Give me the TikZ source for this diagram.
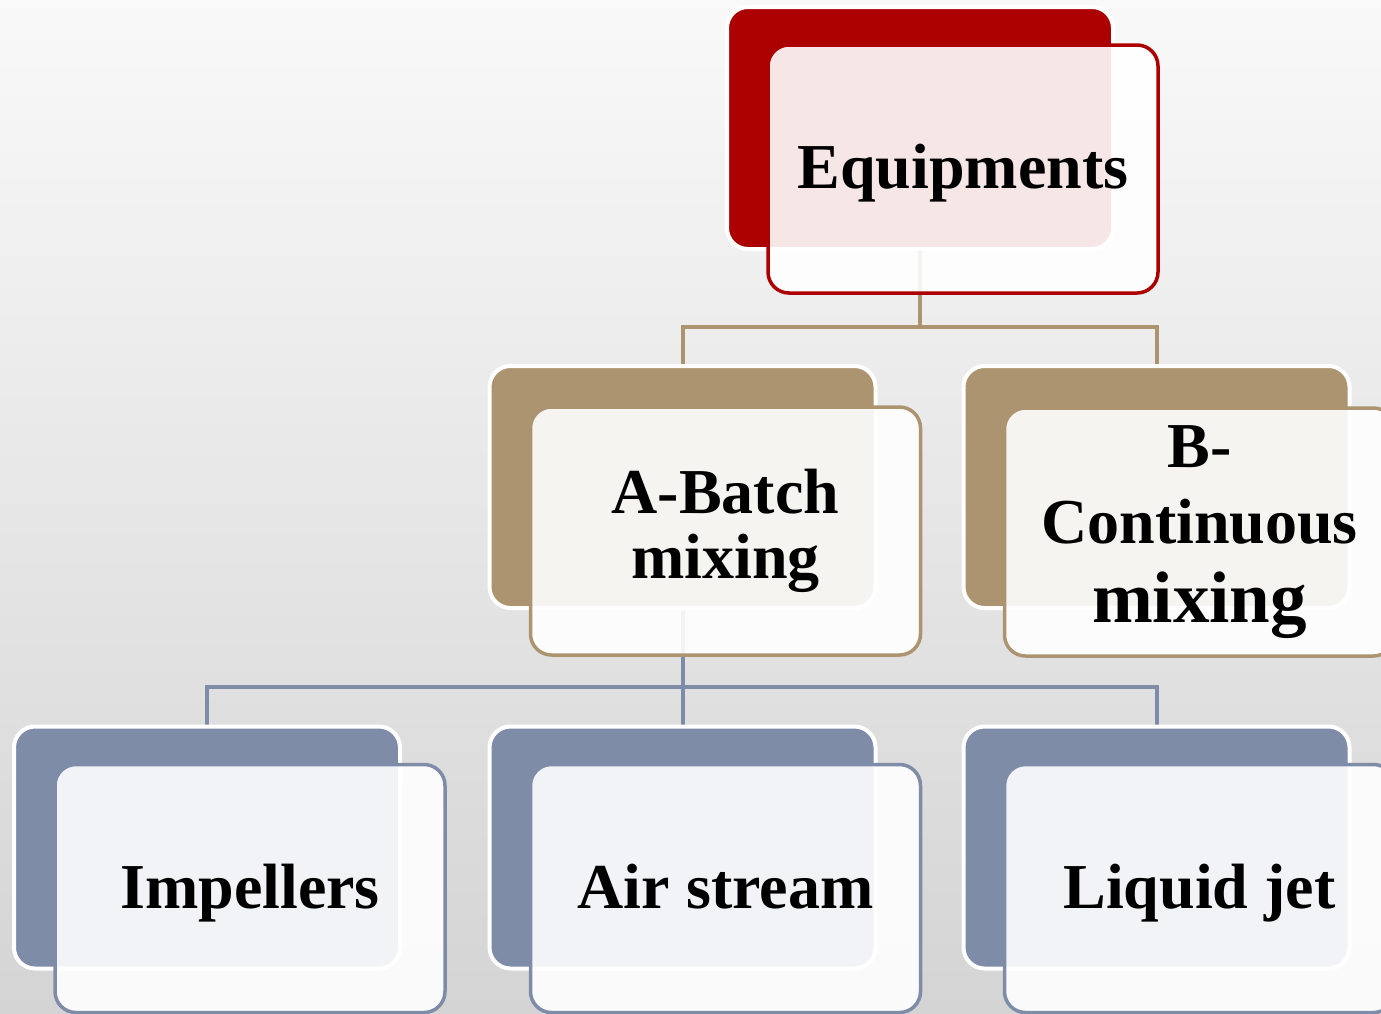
\documentclass[tikz,border=0pt]{standalone}
\usepackage{fontspec}
\setmainfont{Liberation Serif}

\definecolor{deepred}{RGB}{172,0,0}
\definecolor{tanbrown}{RGB}{172,148,112}
\definecolor{slateblue}{RGB}{127,140,168}
\definecolor{bgtop}{RGB}{249,249,249}
\definecolor{bgbottom}{RGB}{212,212,212}

\pgfdeclarelayer{paper}
\pgfdeclarelayer{links}
\pgfsetlayers{paper,links,main}

\tikzset{
  backcard/.style={rectangle, rounded corners=21pt, minimum width=386pt,
    minimum height=242pt, inner sep=0pt, draw=white, line width=4pt, fill=#1},
  frontcard/.style={rectangle, rounded corners=21pt, minimum width=390pt,
    minimum height=248pt, inner sep=0pt, draw=#1, line width=3.5pt,
    fill=white, fill opacity=0.9, text opacity=1, align=center,
    font=\bfseries\fontsize{64}{65}\selectfont},
  oneline/.style={text height=50pt, text depth=11pt},
  linkline/.style={draw=#1, line width=4pt},
}

\begin{document}
\begin{tikzpicture}[x=1pt, y=-1pt]
  % page frame and background
  \useasboundingbox (0,0) rectangle (1381,1013);
  \clip (0,0) rectangle (1381,1013);
  \begin{pgfonlayer}{paper}
    \shade[top color=bgtop, bottom color=bgbottom] (0,0) rectangle (1381,1013);
  \end{pgfonlayer}

  % back cards
  \node[backcard=deepred]   (eqB)  at (920,128)    {};
  \node[backcard=tanbrown]  (batB) at (682.5,487)  {};
  \node[backcard=tanbrown]  (conB) at (1156.5,487) {};
  \node[backcard=slateblue] (impB) at (207,847.5)  {};
  \node[backcard=slateblue] (airB) at (682.5,847.5) {};
  \node[backcard=slateblue] (liqB) at (1156.5,847.5) {};

  % junctions of the tree connectors
  \coordinate (j1) at (920,327);
  \coordinate (j2) at (682.5,687);

  % connectors, drawn beneath the cards
  \begin{pgfonlayer}{links}
    \draw[linkline=tanbrown] (eqB.south) -- (j1) -| (batB.north);
    \draw[linkline=tanbrown] (j1) -| (conB.north);
    \draw[linkline=slateblue] (batB.south) -- (j2) -| (impB.north);
    \draw[linkline=slateblue] (j2) -- (airB.north);
    \draw[linkline=slateblue] (j2) -| (liqB.north);
  \end{pgfonlayer}

  % front cards with labels
  \node[frontcard=deepred, oneline]   (eq)  at (963,169)     {Equipments};
  \node[frontcard=tanbrown]           (bat) at (725.5,531)   {A-Batch\\mixing};
  \node[frontcard=tanbrown, font=\bfseries\fontsize{64}{76}\selectfont]
                                      (con) at (1199.5,532) {B-\\Continuous\\[3pt]{\fontsize{73}{76}\selectfont mixing}};
  \node[frontcard=slateblue, oneline] (imp) at (250,888.5)   {Impellers};
  \node[frontcard=slateblue, oneline] (air) at (725.5,888.5) {Air stream};
  \node[frontcard=slateblue, oneline] (liq) at (1199.5,888.5) {Liquid jet};
\end{tikzpicture}
\end{document}
